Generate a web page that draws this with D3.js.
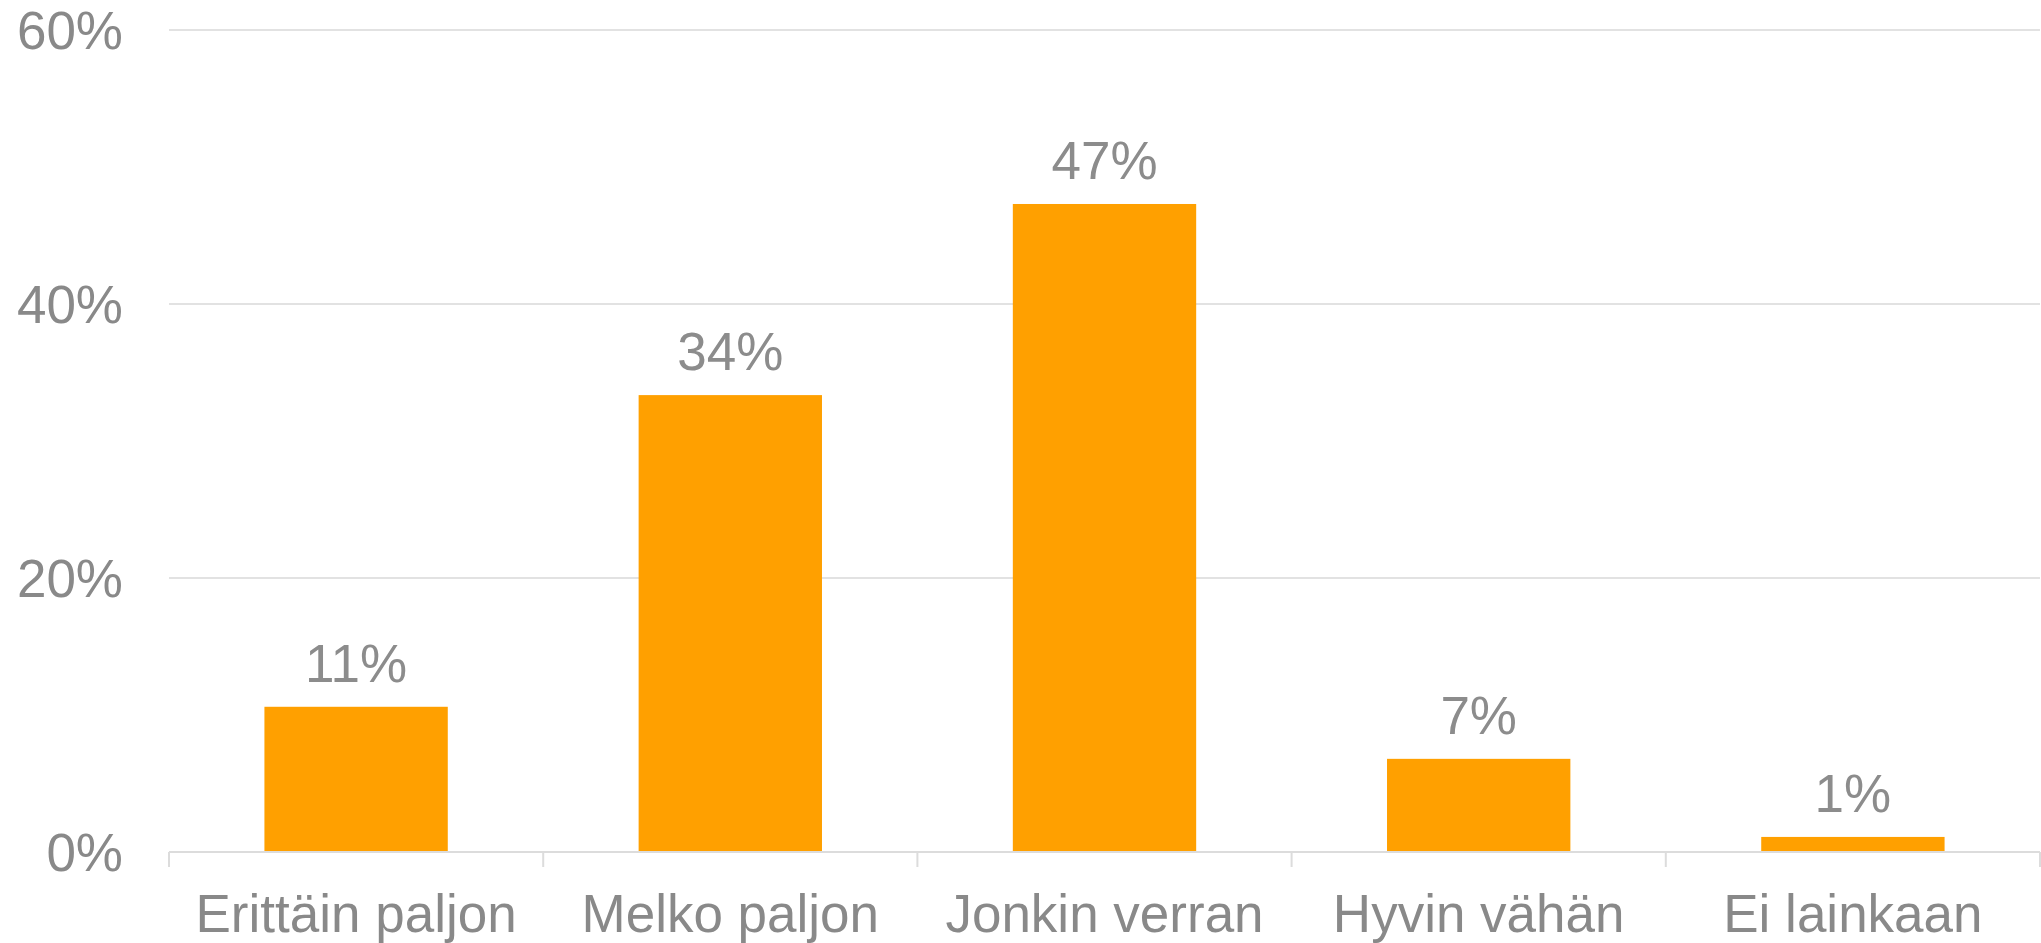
<!DOCTYPE html>
<html>
<head>
<meta charset="utf-8">
<script src="https://cdn.jsdelivr.net/npm/d3@7"></script>
<style>
  html, body { margin: 0; padding: 0; background: #ffffff; }
  svg { display: block; font-family: "Liberation Sans", Arial, sans-serif; }
</style>
</head>
<body>
<svg id="chart" width="2041" height="943"></svg>
<script>
const categories = ["Erittäin paljon", "Melko paljon", "Jonkin verran", "Hyvin vähän", "Ei lainkaan"];
const values = [10.6, 33.35, 47.3, 6.8, 1.1];
const valueLabels = ["11%", "34%", "47%", "7%", "1%"];
const yTicks = [0, 20, 40, 60];

(function () {
const svg = d3.select("#chart");
const plotLeft = 169, plotRight = 2040, plotTop = 30, plotBottom = 852;
const fs = 53;

const x = d3.scaleBand().domain(categories).range([plotLeft, plotRight]).paddingInner(0.51).paddingOuter(0.255);
const band = d3.scaleBand().domain(categories).range([plotLeft, plotRight]);
const y = d3.scaleLinear().domain([0, 60]).range([plotBottom, plotTop]);

// gridlines
svg.append("g").selectAll("line").data(yTicks.filter(d => d > 0)).join("line")
  .attr("x1", plotLeft).attr("x2", plotRight)
  .attr("y1", d => y(d)).attr("y2", d => y(d))
  .attr("stroke", "#e2e2e2").attr("stroke-width", 2);

// y labels
svg.append("g").selectAll("text").data(yTicks).join("text")
  .attr("x", 123).attr("y", d => y(d)).attr("dy", "0.36em")
  .attr("text-anchor", "end").attr("font-size", fs).attr("fill", "#898989")
  .text(d => d + "%");

// bars
svg.append("g").selectAll("rect").data(values).join("rect")
  .attr("x", (d, i) => x(categories[i]))
  .attr("width", x.bandwidth())
  .attr("y", d => y(d))
  .attr("height", d => y(0) - y(d))
  .attr("fill", "#FFA000");

// x axis line
svg.append("line").attr("x1", plotLeft).attr("x2", plotRight)
  .attr("y1", plotBottom).attr("y2", plotBottom)
  .attr("stroke", "#dcdcdc").attr("stroke-width", 2);

// ticks at category boundaries
const bounds = categories.map(c => band(c)).concat([plotRight]);
svg.append("g").selectAll("line").data(bounds).join("line")
  .attr("x1", d => d).attr("x2", d => d)
  .attr("y1", plotBottom).attr("y2", plotBottom + 15)
  .attr("stroke", "#dcdcdc").attr("stroke-width", 2);

// category labels
svg.append("g").selectAll("text").data(categories).join("text")
  .attr("x", d => band(d) + band.bandwidth() / 2)
  .attr("y", 932)
  .attr("text-anchor", "middle").attr("font-size", fs).attr("fill", "#898989")
  .text(d => d);

// value labels
svg.append("g").selectAll("text").data(values).join("text")
  .attr("x", (d, i) => band(categories[i]) + band.bandwidth() / 2)
  .attr("y", d => y(d) - 25)
  .attr("text-anchor", "middle").attr("font-size", fs).attr("fill", "#8c8c8c")
  .text((d, i) => valueLabels[i]);
})();
</script>
</body>
</html>
